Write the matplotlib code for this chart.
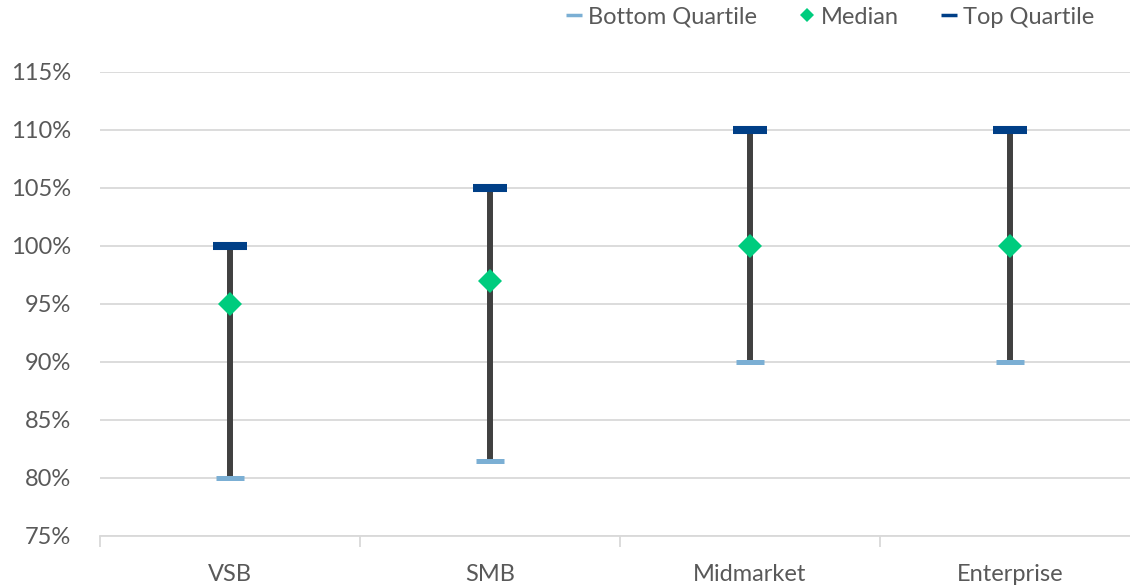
import matplotlib.pyplot as plt
from matplotlib.lines import Line2D
from matplotlib.ticker import FuncFormatter

segments = ['VSB', 'SMB', 'Midmarket', 'Enterprise']
bottom_quartile = [80, 81.5, 90, 90]
median = [95, 97, 100, 100]
top_quartile = [100, 105, 110, 110]

c_bottom = '#7BAFD4'
c_median = '#00CC7E'
c_top = '#003F87'
c_range = '#404040'
c_grid = '#D9D9D9'
c_text = '#595959'

plt.rcParams['font.family'] = ['Lato', 'DejaVu Sans']

fig = plt.figure(figsize=(11.3, 5.85), dpi=100)
ax = fig.add_axes([100 / 1130, 49 / 585, 1040 / 1130, 464 / 585])

x = list(range(len(segments)))

# vertical range bars from bottom to top quartile
ax.vlines(x, bottom_quartile, top_quartile, color=c_range, linewidth=4.3, zorder=2)
ax.plot(x, bottom_quartile, linestyle='none', marker='_', markersize=19.5,
        markeredgewidth=3.6, color=c_bottom, zorder=3)
ax.plot(x, top_quartile, linestyle='none', marker='_', markersize=25,
        markeredgewidth=5.8, color=c_top, zorder=3)
ax.plot(x, median, linestyle='none', marker='D', markersize=12.5,
        color=c_median, markeredgewidth=0, zorder=4)

ax.set_ylim(75, 115)
ax.set_yticks(range(75, 116, 5))
ax.yaxis.set_major_formatter(FuncFormatter(lambda v, p: f'{v:.0f}%'))
ax.set_xlim(-0.5, 3.5)
ax.set_xticks(x)
ax.set_xticklabels(segments)
ax.set_xticks([-0.5, 0.5, 1.5, 2.5, 3.5], minor=True)

ax.grid(axis='y', color=c_grid, linewidth=1.3, zorder=0)
for s in ['left', 'right', 'top']:
    ax.spines[s].set_visible(False)
ax.spines['bottom'].set_color(c_grid)
ax.spines['bottom'].set_linewidth(1.3)

ax.tick_params(axis='y', length=0, pad=21, labelsize=17, labelcolor=c_text)
ax.tick_params(axis='x', which='major', length=0, pad=20, labelsize=17, labelcolor=c_text)
ax.tick_params(axis='x', which='minor', length=8, width=1.3, color=c_grid)

handles = [
    Line2D([], [], linestyle='none', marker='_', markersize=11, markeredgewidth=2.5, color=c_bottom),
    Line2D([], [], linestyle='none', marker='D', markersize=7, markeredgewidth=0, color=c_median),
    Line2D([], [], linestyle='none', marker='_', markersize=11, markeredgewidth=2.5, color=c_top),
]
fig.legend(handles, ['Bottom Quartile', 'Median', 'Top Quartile'], loc='upper right',
           bbox_to_anchor=(0.987, 1.025), ncol=3, frameon=False, fontsize=17,
           labelcolor=c_text, handlelength=0.8, handletextpad=0.2, columnspacing=1.7)

plt.savefig('out.png', dpi=100)
